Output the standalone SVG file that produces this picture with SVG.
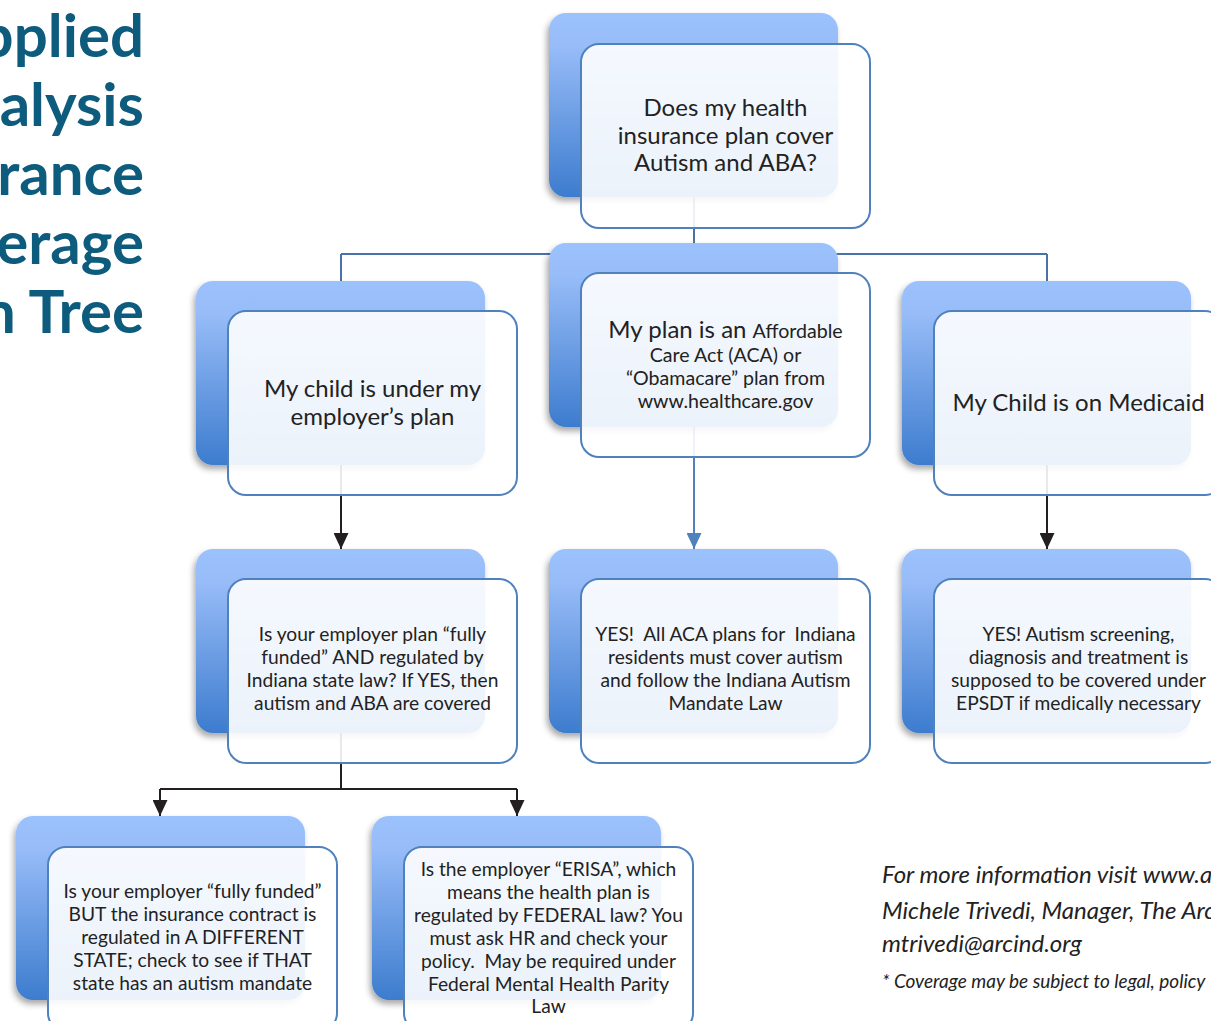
<svg xmlns="http://www.w3.org/2000/svg" width="1211" height="1021" viewBox="0 0 1211 1021">
<defs>
  <linearGradient id="backGrad" x1="0" y1="0" x2="0" y2="1">
    <stop offset="0" stop-color="#9cc2fe"/>
    <stop offset="0.18" stop-color="#97bcf8"/>
    <stop offset="1" stop-color="#3d7cce"/>
  </linearGradient>
  <filter id="shadow" x="-10%" y="-10%" width="120%" height="125%">
    <feDropShadow dx="-2" dy="4" stdDeviation="3" flood-color="#000" flood-opacity="0.35"/>
  </filter>
  <marker id="arrowBlack" viewBox="0 0 16 15" refX="16" refY="7.5" markerWidth="16" markerHeight="15" markerUnits="userSpaceOnUse" orient="auto">
    <path d="M0,0 L16,7.5 L0,15 Z" fill="#231f20"/>
  </marker>
  <marker id="arrowBlue" viewBox="0 0 16 15" refX="16" refY="7.5" markerWidth="16" markerHeight="15" markerUnits="userSpaceOnUse" orient="auto">
    <path d="M0,0 L16,7.5 L0,15 Z" fill="#4f81bd"/>
  </marker>
</defs>
<style>
  .back { fill: url(#backGrad); filter: url(#shadow); }
  .front { fill: #ffffff; fill-opacity: 0.9; stroke: #4f81bd; stroke-width: 2; }
  .t { font-family: Lato, "Liberation Sans", sans-serif; fill: #222222; text-anchor: middle; }
  .big { font-size: 24px; }
  .mid { font-size: 19.6px; }
  .sm { font-size: 19.2px; }
  .title { font-family: Lato, "Liberation Sans", sans-serif; font-weight: bold; font-size: 60px; fill: #0d5b7d; text-anchor: end; }
  .foot { font-family: Lato, "Liberation Sans", sans-serif; font-style: italic; fill: #222222; }
  .cb { fill: none; stroke: #4a72a6; stroke-width: 2; }
  .ck { fill: none; stroke: #231f20; stroke-width: 2; }
</style>

<g id="title">
  <text class="title" x="144" y="57">pplied</text>
  <text class="title" x="144" y="126">alysis</text>
  <text class="title" x="144" y="195">rance</text>
  <text class="title" x="144" y="264">erage</text>
  <text class="title" x="144" y="333">n Tree</text>
</g>

<g id="connectors">
  <path class="cb" d="M694,150 V254 M341,254 H1047 M341,254 V281 M1047,254 V281"/>
  <path class="ck" d="M341,400 V549" marker-end="url(#arrowBlack)"/>
  <path class="cb" style="stroke:#4f81bd" d="M694,400 V549" marker-end="url(#arrowBlue)"/>
  <path class="ck" d="M1047,400 V549" marker-end="url(#arrowBlack)"/>
  <path class="ck" d="M341,700 V789 M160,789 H517"/>
  <path class="ck" d="M160,789 V816" marker-end="url(#arrowBlack)"/>
  <path class="ck" d="M517,789 V816" marker-end="url(#arrowBlack)"/>
</g>

<g id="node-root">
  <rect class="back" x="549" y="13" width="289" height="184" rx="17"/>
  <rect class="front" x="581" y="44" width="289" height="184" rx="18"/>
  <text class="t big" x="725.5" y="116">Does my health</text>
  <text class="t big" x="725.5" y="144">insurance plan cover</text>
  <text class="t big" x="725.5" y="171">Autism and ABA?</text>
</g>

<g id="node-employer">
  <rect class="back" x="196" y="281" width="289" height="184" rx="17"/>
  <rect class="front" x="228" y="311" width="289" height="184" rx="18"/>
  <text class="t big" x="372.5" y="397">My child is under my</text>
  <text class="t big" x="372.5" y="425">employer’s plan</text>
</g>

<g id="node-aca">
  <rect class="back" x="549" y="243" width="289" height="184" rx="17"/>
  <rect class="front" x="581" y="273" width="289" height="184" rx="18"/>
  <text class="t" x="725.5" y="338"><tspan class="big">My plan is an </tspan><tspan class="mid">Affordable</tspan></text>
  <text class="t mid" x="725.5" y="362">Care Act (ACA) or</text>
  <text class="t mid" x="725.5" y="385">“Obamacare” plan from</text>
  <text class="t mid" x="725.5" y="408">www.healthcare.gov</text>
</g>

<g id="node-medicaid">
  <rect class="back" x="902" y="281" width="289" height="184" rx="17"/>
  <rect class="front" x="934" y="311" width="289" height="184" rx="18"/>
  <text class="t big" x="1078.5" y="411">My Child is on Medicaid</text>
</g>

<g id="node-fully-funded">
  <rect class="back" x="196" y="549" width="289" height="184" rx="17"/>
  <rect class="front" x="228" y="579" width="289" height="184" rx="18"/>
  <text class="t sm" x="372.5" y="641">Is your employer plan “fully</text>
  <text class="t sm" x="372.5" y="664">funded” AND regulated by</text>
  <text class="t sm" x="372.5" y="687">Indiana state law? If YES, then</text>
  <text class="t sm" x="372.5" y="710">autism and ABA are covered</text>
</g>

<g id="node-aca-yes">
  <rect class="back" x="549" y="549" width="289" height="184" rx="17"/>
  <rect class="front" x="581" y="579" width="289" height="184" rx="18"/>
  <text class="t sm" x="725.5" y="641" xml:space="preserve">YES!  All ACA plans for  Indiana</text>
  <text class="t sm" x="725.5" y="664">residents must cover autism</text>
  <text class="t sm" x="725.5" y="687">and follow the Indiana Autism</text>
  <text class="t sm" x="725.5" y="710">Mandate Law</text>
</g>

<g id="node-medicaid-yes">
  <rect class="back" x="902" y="549" width="289" height="184" rx="17"/>
  <rect class="front" x="934" y="579" width="289" height="184" rx="18"/>
  <text class="t sm" x="1078.5" y="641">YES! Autism screening,</text>
  <text class="t sm" x="1078.5" y="664">diagnosis and treatment is</text>
  <text class="t sm" x="1078.5" y="687">supposed to be covered under</text>
  <text class="t sm" x="1078.5" y="710">EPSDT if medically necessary</text>
</g>

<g id="node-different-state">
  <rect class="back" x="16" y="816" width="289" height="184" rx="17"/>
  <rect class="front" x="48" y="847" width="289" height="184" rx="18"/>
  <text class="t sm" x="192.5" y="898">Is your employer “fully funded”</text>
  <text class="t sm" x="192.5" y="921">BUT the insurance contract is</text>
  <text class="t sm" x="192.5" y="944">regulated in A DIFFERENT</text>
  <text class="t sm" x="192.5" y="967">STATE; check to see if THAT</text>
  <text class="t sm" x="192.5" y="990">state has an autism mandate</text>
</g>

<g id="node-erisa">
  <rect class="back" x="372" y="816" width="289" height="184" rx="17"/>
  <rect class="front" x="404" y="847" width="289" height="184" rx="18"/>
  <text class="t sm" x="548.5" y="876">Is the employer “ERISA”, which</text>
  <text class="t sm" x="548.5" y="899">means the health plan is</text>
  <text class="t sm" x="548.5" y="922">regulated by FEDERAL law? You</text>
  <text class="t sm" x="548.5" y="945">must ask HR and check your</text>
  <text class="t sm" x="548.5" y="968" xml:space="preserve">policy.  May be required under</text>
  <text class="t sm" x="548.5" y="991">Federal Mental Health Parity</text>
  <text class="t sm" x="548.5" y="1013">Law</text>
</g>

<g id="footer">
  <text class="foot" x="882" y="883" font-size="24">For more information visit www.a</text>
  <text class="foot" x="882" y="919" font-size="24">Michele Trivedi, Manager, The Arc</text>
  <text class="foot" x="882" y="952" font-size="24">mtrivedi@arcind.org</text>
  <text class="foot" x="882" y="988" font-size="19">* Coverage may be subject to legal, policy</text>
</g>
</svg>
